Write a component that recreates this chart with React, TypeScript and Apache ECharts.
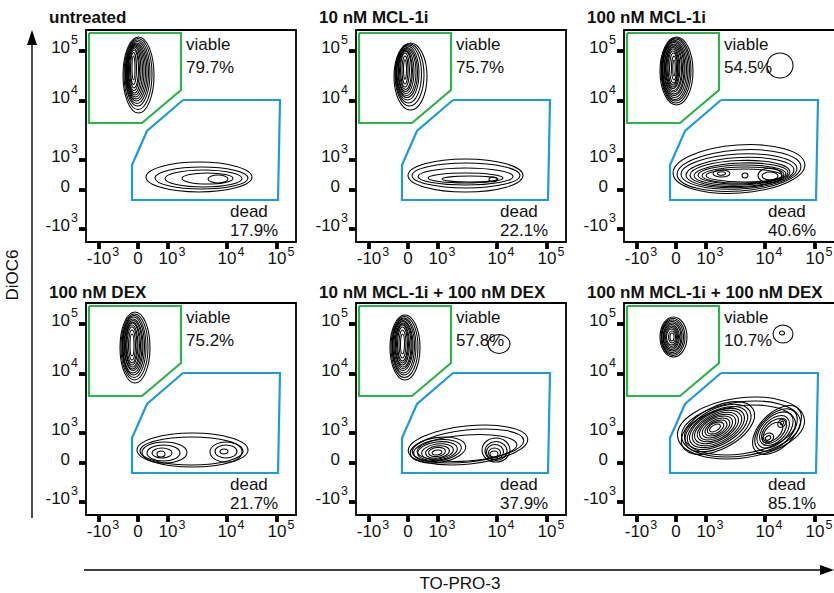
import React, { useEffect, useRef } from 'react';
import * as echarts from 'echarts';

// ---------- data (axis units: transformed display scale, 0 = value 0) ----------
const panelTitles = [
  'untreated',
  '10 nM MCL-1i',
  '100 nM MCL-1i',
  '100 nM DEX',
  '10 nM MCL-1i + 100 nM DEX',
  '100 nM MCL-1i + 100 nM DEX',
];
const viablePct = ['79.7', '75.7', '54.5', '75.2', '57.8', '10.7'];
const deadPct = ['17.9', '22.1', '40.6', '21.7', '37.9', '85.1'];

// tick positions on the display scale and their labels (-10^3, 0, 10^3, 10^4, 10^5)
const tickPos = [-39, 0, 30, 89, 139];
const tickBase = ['-10', '0', '10', '10', '10'];
const tickExp = ['3', '', '3', '4', '5'];

// gates
const viableGate = [[-49, 157], [43, 157], [43, 100], [4, 67], [-49, 67], [-49, 157]];
const deadGate = [[45, 90], [142, 90], [140, -10], [-6, -10], [-6, 25], [9, 59], [45, 90]];

// contour lines: [centerX, centerY, radiusX, radiusY, rotationDeg]
const contoursUntreated = [
  [0.5, 115, 15.5, 38], [0, 116, 14, 35.5], [-0.5, 117, 12.5, 33], [-1, 117.5, 11.5, 31],
  [-1.5, 118, 10.5, 29], [-2, 118.5, 9.5, 27.5], [-2.5, 119, 8.5, 26], [-3, 119.5, 7.5, 24.5],
  [-3.5, 120, 6.5, 23], [-4, 120.5, 5.5, 21], [-4, 121, 4.5, 19], [-4.5, 121.5, 3, 16],
  [-4.5, 122, 1.5, 12],
  [61, 13, 53, 15], [63.5, 12, 46.5, 11], [65.5, 11.5, 38.5, 8.5], [69.5, 11.5, 25.5, 5.5], [80, 11, 10, 4],
];
const contoursMcl10 = [
  [2.5, 113.5, 16.5, 33.5], [1.5, 115, 14.5, 31], [0.5, 116, 13, 29], [-0.5, 117, 11.5, 27],
  [-1, 117.5, 10.5, 25], [-1.5, 118, 9.5, 23.5], [-2, 118.5, 8, 22], [-2.5, 119, 7, 20.5],
  [-2.5, 119.5, 6, 19], [-3, 120, 4.5, 17], [-3, 120, 3, 14], [-3, 120.5, 1.5, 10],
  [57.5, 14.5, 57.5, 16.5], [58, 14.5, 54, 12.5], [57.5, 13.5, 47.5, 8.5], [57.5, 12, 37.5, 5],
  [62, 11, 28, 3], [85, 10.5, 4, 2.5],
];
const contoursMcl100 = [
  [0.5, 119, 16.5, 34], [0, 119.5, 15, 32.5], [-0.5, 120, 14, 31], [-1, 120, 13, 29.5],
  [-1.5, 120.5, 12, 28], [-2, 121, 11, 26.5], [-2, 121, 10, 25], [-2.5, 121.5, 9, 23.5],
  [-2.5, 121.5, 8, 22], [-3, 122, 7, 20.5], [-3, 122, 6, 19], [-3, 122, 5, 17],
  [-2.5, 122, 4, 15], [-2, 122, 2.5, 12], [-2, 122, 1.2, 8],
  [104, 124.5, 13, 12.5],
  [63, 21, 66, 24, 4], [63, 19.5, 62, 20.5, 4], [63, 18.5, 58, 17.5, 3], [64, 17.5, 54, 15, 3],
  [64, 16.5, 50, 13, 2], [65, 16, 47, 11, 2], [66, 15.5, 44, 9.5, 1], [67, 15, 41, 8, 1],
  [68, 14.5, 38, 6.5, 0],
  [45.5, 16.5, 8.5, 3.5], [45.5, 16.5, 4, 1.8], [69, 14.5, 3, 2.5], [94, 14.5, 12, 7.5], [94, 14, 8, 4],
];
const contoursDex = [
  [-3, 115.5, 15, 35.5], [-3.5, 116, 13.5, 33], [-4, 116.5, 12, 31], [-4.5, 117, 11, 29],
  [-5, 117, 10, 27], [-5, 117.5, 9, 25], [-5.5, 117.5, 8, 23.5], [-5.5, 118, 7, 22],
  [-6, 118, 6, 20], [-6, 118, 5, 18], [-6, 118, 3.5, 15], [-6, 118, 2, 11],
  [54.5, 13, 55.5, 17], [53.5, 12, 51.5, 14],
  [26.5, 10.5, 22.5, 10.5], [25.5, 10, 16.5, 8], [24, 10, 10, 5], [23, 9, 4, 3],
  [88, 11, 16, 10], [88, 11.5, 11, 6.5], [86, 11.5, 4, 2.5],
];
const contoursMcl10Dex = [
  [-3, 115.5, 15, 32.5], [-3.5, 116, 13.5, 30.5], [-4, 116.5, 12, 28.5], [-4.5, 117, 11, 27],
  [-5, 117.5, 10, 25], [-5, 118, 9, 23.5], [-5, 118, 8, 22], [-5.5, 118.5, 7, 20.5],
  [-5.5, 119, 6, 19], [-5.5, 119, 5, 17], [-5.5, 119, 3.5, 14], [-5.5, 119, 2, 10],
  [91, 119, 11, 9.5],
  [60, 18, 60, 19, 6], [60, 17, 56, 16, 6], [59, 15, 50, 13, 4],
  [30, 13, 28, 12.5, 8], [29.5, 12.5, 24, 10.5, 8], [29.5, 12, 20, 9, 8], [29.5, 11.5, 16, 7.5, 8],
  [29.5, 11, 12, 6, 8], [29, 11, 8.5, 4.5, 8], [29, 10.5, 5, 2.5, 8],
  [88, 13, 14, 12], [88, 12, 11, 9.5], [87, 11, 8.5, 7.5], [86.5, 10, 6, 5], [86, 9, 4, 3],
];
const contoursMcl100Dex = [
  [-2.5, 126, 13.5, 20], [-3, 126, 12, 18.5], [-3.5, 126, 11, 17], [-4, 126, 10, 15.5],
  [-4, 126, 9, 14], [-4.5, 126, 8, 12.5], [-4.5, 126, 7, 11], [-4.5, 126, 6, 9.5],
  [-4.5, 126, 5, 8], [-4, 126, 3.5, 6], [-4, 126, 2, 4],
  [107, 129, 10, 9], [106, 130, 2.5, 2],
  [65, 35, 64, 30, 8], [65, 34, 60, 27, 8], [64, 33, 56, 24, 8],
  [42, 35, 40, 21, 28], [42, 35, 36, 19, 28], [41.5, 35, 33, 17, 28], [41, 35, 30, 15.5, 28],
  [41, 35, 27, 14, 28], [40.5, 35, 24, 12.5, 28], [40.5, 35, 21, 11, 28], [40, 35, 18, 9.5, 28],
  [40, 35, 15, 8, 28], [40, 35, 12, 6.5, 28], [39.5, 35, 9, 5, 28], [39, 35, 6, 3, 28],
  [101, 33, 30, 17, 45], [100, 33, 26, 15, 45], [99, 33, 22, 13, 45], [98.5, 32.5, 18, 11, 45],
  [98, 32, 15, 9, 45], [97, 31, 12, 7, 45],
  [92, 25, 6, 4.5, 30], [92, 25, 3, 2, 30], [106, 40, 5, 3.5, 45], [106, 40, 2, 1.5, 45],
];
const panelContours = [
  contoursUntreated, contoursMcl10, contoursMcl100,
  contoursDex, contoursMcl10Dex, contoursMcl100Dex,
];

// ---------- layout & style ----------
const FONT = '"Liberation Sans", Arial, Helvetica, sans-serif';
const TEXT = '#111111';
const GREEN = '#2fb14b';
const BLUE = '#1f9bd7';
const gridLefts = [86, 356, 624];
const gridWidths = [210, 210, 214];
const gridTops = [30, 303];
const titleX = [49, 319, 587];
const titleY = [17, 292];

const richBase = {
  // base number, with room kept at the bottom so the exponent sits higher
  b: { fontSize: 17, fontFamily: FONT, color: TEXT, lineHeight: 17, padding: [0, 1, 4, 0], verticalAlign: 'bottom' },
  // base number shifted right (x-axis) so the base is centred on the tick
  bl: { fontSize: 17, fontFamily: FONT, color: TEXT, lineHeight: 17, padding: [0, 1, 4, 8], verticalAlign: 'bottom' },
  // exponent
  s: { fontSize: 12.5, fontFamily: FONT, color: TEXT, lineHeight: 12, padding: [0, 0, 13, 0], verticalAlign: 'bottom' },
  // plain "0" with the same overall height
  c: { fontSize: 17, fontFamily: FONT, color: TEXT, lineHeight: 17, padding: [4, 0, 4, 0], verticalAlign: 'bottom' },
  // plain "0" on the y-axis, right padding = exponent width
  cy: { fontSize: 17, fontFamily: FONT, color: TEXT, lineHeight: 17, padding: [4, 8, 4, 0], verticalAlign: 'bottom' },
};

const xFmt = (v: number) => {
  const i = tickPos.indexOf(v);
  if (i < 0) return '';
  if (!tickExp[i]) return `{c|${tickBase[i]}}`;
  return `{bl|${tickBase[i]}}{s|${tickExp[i]}}`;
};
const yFmt = (v: number) => {
  const i = tickPos.indexOf(v);
  if (i < 0) return '';
  if (!tickExp[i]) return `{cy|${tickBase[i]}}`;
  return `{b|${tickBase[i]}}{s|${tickExp[i]}}`;
};

const renderContour = (_params: any, api: any) => {
  const c = api.coord([api.value(0), api.value(1)]);
  const s = api.size([api.value(2), api.value(3)]);
  const rot = api.value(4);
  return {
    type: 'ellipse',
    x: c[0],
    y: c[1],
    rotation: ((rot && !isNaN(rot)) ? rot : 0) * Math.PI / 180,
    shape: { cx: 0, cy: 0, rx: Math.abs(s[0]), ry: Math.abs(s[1]) },
    style: { fill: 'none', stroke: '#000', lineWidth: 1.05 },
    silent: true,
  };
};

function buildOption() {
  const grid: any[] = [];
  const xAxis: any[] = [];
  const yAxis: any[] = [];
  const series: any[] = [];
  const graphic: any[] = [];

  for (let i = 0; i < 6; i++) {
    const r = Math.floor(i / 3);
    const c = i % 3;
    grid.push({
      left: gridLefts[c], top: gridTops[r], width: gridWidths[c], height: 212,
      containLabel: false, outerBoundsMode: 'none',
      show: true, borderColor: '#000', borderWidth: 1.8, backgroundColor: 'transparent',
    });
    const tick = { show: true, customValues: tickPos, length: 7, inside: false, lineStyle: { color: '#000', width: 3.8 } };
    const label = {
      show: true, customValues: tickPos, rich: richBase, color: TEXT,
      fontSize: 17, fontFamily: FONT, hideOverlap: false,
    };
    xAxis.push({
      type: 'value', gridIndex: i, min: -52, max: -52 + gridWidths[c], position: 'bottom',
      axisLine: { show: false, onZero: false }, splitLine: { show: false },
      axisTick: tick,
      axisLabel: { ...label, margin: 12, formatter: xFmt },
    });
    yAxis.push({
      type: 'value', gridIndex: i, min: -52, max: 160, position: 'left',
      axisLine: { show: false, onZero: false }, splitLine: { show: false },
      axisTick: tick,
      axisLabel: { ...label, margin: 8, formatter: yFmt },
    });
    series.push({
      type: 'custom', xAxisIndex: i, yAxisIndex: i,
      dimensions: ['x', 'y', 'rx', 'ry', 'rot'],
      encode: { x: 0, y: 1 },
      data: panelContours[i].map((d) => [d[0], d[1], d[2], d[3], d.length > 4 ? d[4] : 0]),
      renderItem: renderContour, silent: true, z: 2,
    });
    series.push({
      type: 'line', xAxisIndex: i, yAxisIndex: i, data: viableGate, symbol: 'none', silent: true, z: 3,
      lineStyle: { color: GREEN, width: 2.2, join: 'miter' },
    });
    series.push({
      type: 'line', xAxisIndex: i, yAxisIndex: i, data: deadGate, symbol: 'none', silent: true, z: 3,
      lineStyle: { color: BLUE, width: 2.2, join: 'miter' },
    });
    series.push({
      type: 'scatter', xAxisIndex: i, yAxisIndex: i, symbolSize: 0, silent: true, z: 4,
      itemStyle: { color: '#000', opacity: 1 },
      data: [
        [48, 146, 'viable'], [48, 123, viablePct[i] + '%'],
        [92, -21, 'dead'], [92, -40, deadPct[i] + '%'],
      ],
      label: {
        show: true, position: 'right', distance: 0,
        formatter: (p: any) => p.data[2],
        fontSize: 17, fontFamily: FONT, color: TEXT, opacity: 1,
      },
      emphasis: { disabled: true },
    });
    graphic.push({
      type: 'text', x: titleX[c], y: titleY[r], silent: true,
      style: { text: panelTitles[i], font: `bold 17px ${FONT}`, fill: TEXT, textVerticalAlign: 'middle', verticalAlign: 'middle' },
    });
  }

  // outer axis arrows and names
  graphic.push(
    { type: 'line', silent: true, shape: { x1: 32, y1: 42, x2: 32, y2: 518 }, style: { stroke: '#000', lineWidth: 1.4 } },
    { type: 'polygon', silent: true, shape: { points: [[32, 30], [27, 45], [37, 45]] }, style: { fill: '#000' } },
    { type: 'line', silent: true, shape: { x1: 84, y1: 570, x2: 822, y2: 570 }, style: { stroke: '#000', lineWidth: 1.4 } },
    { type: 'polygon', silent: true, shape: { points: [[834, 570], [820, 565], [820, 575]] }, style: { fill: '#000' } },
    {
      type: 'text', silent: true, x: 12, y: 275, rotation: Math.PI / 2,
      style: { text: 'DiOC6', font: `17px ${FONT}`, fill: TEXT, align: 'center', verticalAlign: 'middle' },
    },
    {
      type: 'text', silent: true, x: 460, y: 583,
      style: { text: 'TO-PRO-3', font: `17px ${FONT}`, fill: TEXT, align: 'center', verticalAlign: 'middle' },
    },
  );

  return {
    animation: false,
    backgroundColor: '#fff',
    grid, xAxis, yAxis, series, graphic,
  };
}

export default function App() {
  const ref = useRef<HTMLDivElement>(null);
  useEffect(() => {
    if (!ref.current) return;
    const chart = echarts.init(ref.current, null, { renderer: 'svg' });
    chart.setOption(buildOption() as any);
    return () => chart.dispose();
  }, []);
  return (
    <div
      ref={ref}
      style={{ position: 'absolute', left: 0, top: 0, width: 834, height: 593, background: '#fff' }}
    />
  );
}
